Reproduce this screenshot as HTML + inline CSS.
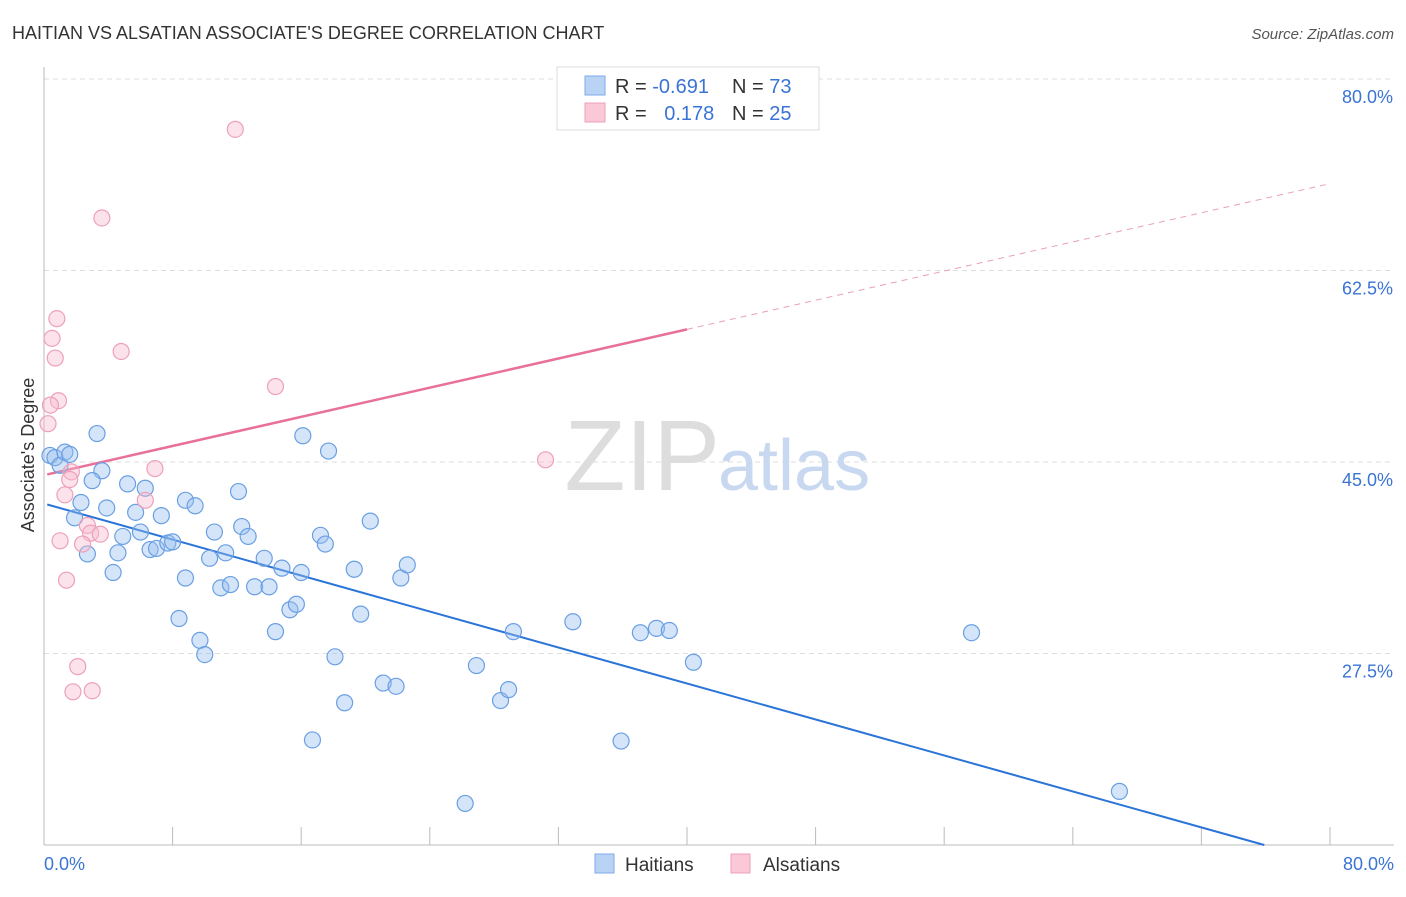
<!DOCTYPE html>
<html><head><meta charset="utf-8">
<style>
body{margin:0;background:#fff;font-family:"Liberation Sans",sans-serif;}
svg text{font-family:"Liberation Sans",sans-serif;}
</style></head>
<body>
<svg id="chart" width="1406" height="892" viewBox="0 0 1406 892">
<text x="12" y="39" font-size="18" fill="#333">HAITIAN VS ALSATIAN ASSOCIATE'S DEGREE CORRELATION CHART</text>
<text x="1394" y="39" font-size="15" fill="#555" font-style="italic" text-anchor="end">Source: ZipAtlas.com</text>
<text x="34" y="455" font-size="18" fill="#333" text-anchor="middle" transform="rotate(-90 34 455)">Associate's Degree</text>
<g id="grid"></g>
<g id="axes"></g>
<text x="720" y="490" font-size="100" fill="#ddd" text-anchor="end" font-family="Liberation Serif">ZIP</text>
<text x="718" y="490" font-size="72" fill="#c8d8f0">atlas</text>
<g id="lines"></g>
<g id="pts"></g>
<g>
<rect x="557" y="67" width="262" height="63" fill="#fff" stroke="#ddd"/>
<rect x="585" y="76" width="20" height="19" fill="#b9d3f5" stroke="#7eaaea"/>
<rect x="585" y="103" width="20" height="19" fill="#fac8d6" stroke="#eea0b8"/>
<text x="615" y="93" font-size="20" fill="#333">R = <tspan fill="#3a74d4">-0.691</tspan></text>
<text x="732" y="93" font-size="20" fill="#333">N = <tspan fill="#3a74d4">73</tspan></text>
<text x="615" y="120" font-size="20" fill="#333">R = <tspan fill="#3a74d4" dx="12">0.178</tspan></text>
<text x="732" y="120" font-size="20" fill="#333">N = <tspan fill="#3a74d4">25</tspan></text>
</g>
<g>
<rect x="595" y="854" width="19" height="19" fill="#b9d3f5" stroke="#7eaaea"/>
<text x="625" y="871" font-size="19" fill="#333">Haitians</text>
<rect x="731" y="854" width="19" height="19" fill="#fac8d6" stroke="#eea0b8"/>
<text x="763" y="871" font-size="19" fill="#333">Alsatians</text>
</g>
</svg>
<script>
const yTicks=[80,62.5,45,27.5];
const yTickLabels=["80.0%","62.5%","45.0%","27.5%"];
const xTicks=[0,8,16,24,32,40,48,56,64,72,80];
const xTickLabels=["0.0%","80.0%"];
const haitianX=[0.37,0.68,1.0,1.3,1.6,3.3,3.6,3.0,2.3,1.9,2.7,3.9,4.3,4.6,4.9,5.2,5.7,6.0,6.3,6.6,7.0,7.3,7.7,8.0,8.4,8.8,8.8,9.4,9.7,10.0,10.3,10.6,11.0,11.3,11.6,12.1,12.3,12.7,13.1,13.7,14.0,14.4,14.8,15.3,15.7,16.0,16.1,16.7,17.2,17.5,17.7,18.1,18.7,19.3,19.7,20.3,21.1,21.9,22.2,22.6,26.2,26.9,28.4,28.9,29.2,32.9,35.9,37.1,38.1,38.9,40.4,57.7,66.9];
const haitianY=[45.6,45.4,44.7,45.9,45.7,47.6,44.2,43.3,41.3,39.9,36.6,40.8,34.9,36.7,38.2,43.0,40.4,38.6,42.6,37.0,37.1,40.1,37.6,37.7,30.7,34.4,41.5,41.0,28.7,27.4,36.2,38.6,33.5,36.7,33.8,42.3,39.1,38.2,33.6,36.2,33.6,29.5,35.3,31.5,32.0,34.9,47.4,19.6,38.3,37.5,46.0,27.2,23.0,35.2,31.1,39.6,24.8,24.5,34.4,35.6,13.8,26.4,23.2,24.2,29.5,30.4,19.5,29.4,29.8,29.6,26.7,29.4,14.9];
const alsatianX=[11.9,3.6,0.8,0.5,0.7,4.8,14.4,0.9,0.4,0.25,1.7,1.3,1.6,6.9,31.2,6.3,2.7,2.9,3.5,1.0,2.4,1.4,2.1,1.8,3.0];
const alsatianY=[75.4,67.3,58.1,56.3,54.5,55.1,51.9,50.6,50.2,48.5,44.1,42.0,43.4,44.4,45.2,41.5,39.2,38.5,38.4,37.8,37.5,34.2,26.3,24.0,24.1];
const haitianTrend=[41.2,-0.411];
const alsatianTrend=[43.8,0.333];
const NS="http://www.w3.org/2000/svg";
const sx=v=>44+v/80*1286;
const sy=v=>79+(80-v)*10.943;
function mk(tag,attrs,parent){const e=document.createElementNS(NS,tag);for(const k in attrs)e.setAttribute(k,attrs[k]);document.getElementById(parent).appendChild(e);return e;}
yTicks.forEach((t,i)=>{
 const l=mk('line',{x1:44,x2:1394,y1:sy(t),y2:sy(t),stroke:'#ddd','stroke-dasharray':'5,4'},'grid');
 
 
 const tx=mk('text',{x:1393,y:sy(t)+24,'font-size':18,fill:'#3a74d4','text-anchor':'end'},'axes');
 tx.textContent=yTickLabels[i];
 
 
});
const ya=mk('line',{x1:44,x2:44,y1:67,y2:845,stroke:'#bbb'},'axes');


const xa=mk('line',{x1:44,x2:1394,y1:845,y2:845,stroke:'#bbb'},'axes');


xTicks.forEach(t=>{
 const l=mk('line',{x1:sx(t),x2:sx(t),y1:827,y2:845,stroke:'#bbb'},'axes');
 
 
});
const xl0=mk('text',{x:44,y:870,'font-size':18,fill:'#3a74d4'},'axes');
xl0.textContent=xTickLabels[0];


const xl1=mk('text',{x:1394,y:870,'font-size':18,fill:'#3a74d4','text-anchor':'end'},'axes');
xl1.textContent=xTickLabels[1];


// trend lines
const bx2=(10-haitianTrend[0])/haitianTrend[1];
const bl=mk('line',{x1:sx(0.2),y1:sy(haitianTrend[0]+haitianTrend[1]*0.2),x2:sx(bx2),y2:sy(10),stroke:'#2b74d8','stroke-width':2},'lines');


const pl=mk('line',{x1:sx(0.2),y1:sy(alsatianTrend[0]+alsatianTrend[1]*0.2),x2:sx(40),y2:sy(alsatianTrend[0]+alsatianTrend[1]*40),stroke:'#e8709a','stroke-width':2.5},'lines');


const pd=mk('line',{x1:sx(40),y1:sy(alsatianTrend[0]+alsatianTrend[1]*40),x2:sx(80),y2:sy(alsatianTrend[0]+alsatianTrend[1]*80),stroke:'#e8a0b8','stroke-width':1,'stroke-dasharray':'6,5'},'lines');


haitianX.forEach((x,i)=>{
 const c=mk('circle',{cx:sx(x),cy:sy(haitianY[i]),r:8,fill:'rgba(150,190,240,0.4)',stroke:'#6a9fe3','stroke-width':1.2},'pts');
 
 
});
alsatianX.forEach((x,i)=>{
 const c=mk('circle',{cx:sx(x),cy:sy(alsatianY[i]),r:8,fill:'rgba(248,185,205,0.4)',stroke:'#eda0b9','stroke-width':1.2},'pts');
 
 
});
</script>
</body></html>
